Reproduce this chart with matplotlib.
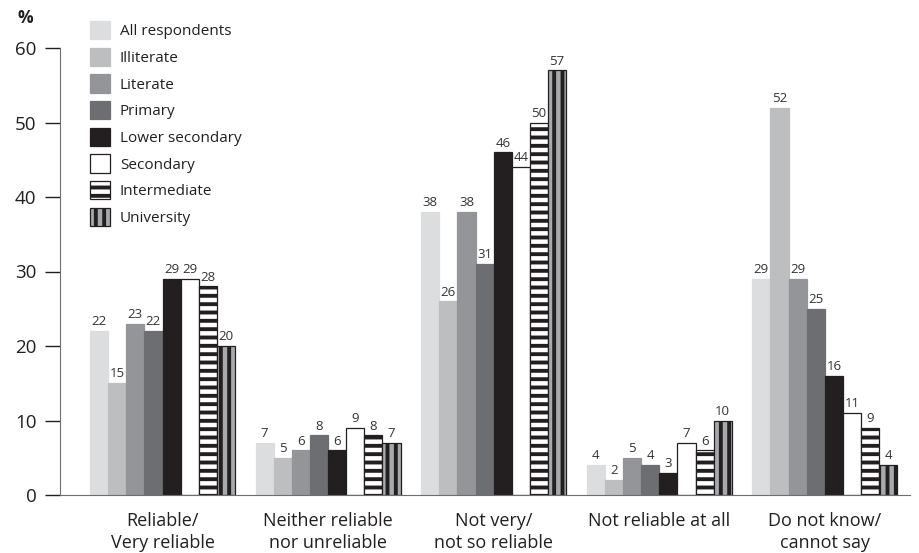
"""
Reliability of information by education level, grouped bar chart.
"""
import numpy as np
import matplotlib
matplotlib.use("Agg")
import matplotlib.pyplot as plt

plt.rcParams["font.family"] = ["Open Sans", "DejaVu Sans"]
plt.rcParams["hatch.linewidth"] = 2.8

categories = ["Reliable/\nVery reliable", "Neither reliable\nnor unreliable",
              "Not very/\nnot so reliable", "Not reliable at all",
              "Do not know/\ncannot say"]

series_names = ["All respondents", "Illiterate", "Literate", "Primary",
                "Lower secondary", "Secondary", "Intermediate", "University"]

all_resp = [22, 7, 38, 4, 29]
illiterate = [15, 5, 26, 2, 52]
literate = [23, 6, 38, 5, 29]
primary = [22, 8, 31, 4, 25]
lower_secondary = [29, 6, 46, 3, 16]
secondary = [29, 9, 44, 7, 11]
intermediate = [28, 8, 50, 6, 9]
university = [20, 7, 57, 10, 4]

yticks = [0, 10, 20, 30, 40, 50, 60]

values = [all_resp, illiterate, literate, primary,
          lower_secondary, secondary, intermediate, university]

# face, edge, hatch for each series
styles = [
    ("#dcdddf", "#dcdddf", None),
    ("#bcbec0", "#bcbec0", None),
    ("#939598", "#939598", None),
    ("#6d6e71", "#6d6e71", None),
    ("#231f20", "#231f20", None),
    ("#ffffff", "#231f20", None),
    ("#ffffff", "#231f20", "--"),
    ("#a7a9ac", "#231f20", "||"),
]

fig = plt.figure(figsize=(9.19, 5.53), dpi=100)
ax = fig.add_axes([60 / 919, 58 / 553, 850 / 919, 447 / 553])

x = np.arange(len(categories))
width = 0.1095
n = len(values)

for i, (vals, (face, edge, hatch)) in enumerate(zip(values, styles)):
    pos = x + (i - (n - 1) / 2) * width
    bars = ax.bar(pos, vals, width, color=face, edgecolor=edge,
                  hatch=hatch, linewidth=0.9, label=series_names[i])
    ax.bar_label(bars, labels=[str(v) for v in vals], padding=2,
                 fontsize=9.5, color="#333333")

ax.set_xlim(-0.619, 4.514)
ax.set_ylim(0, 60)
ax.set_yticks(yticks)
ax.set_xticks(x)
ax.set_xticklabels(categories, fontsize=13, color="#231f20",
                   linespacing=1.3)
ax.tick_params(axis="x", length=0, pad=12)
ax.tick_params(axis="y", length=11, width=1, color="#231f20",
               labelsize=13.5, labelcolor="#231f20", pad=6)

for side in ["top", "right"]:
    ax.spines[side].set_visible(False)
ax.spines["left"].set_color("#6d6e71")
ax.spines["bottom"].set_color("#6d6e71")

fig.text(25 / 919, 1 - 18 / 553, "%", fontsize=12.5, fontweight="bold",
         ha="center", va="center", color="#231f20")

fig.legend(loc="upper left", bbox_to_anchor=(90 / 919, 1 - 21 / 553),
           frameon=False, fontsize=11, borderpad=0, borderaxespad=0,
           handlelength=1.3, handleheight=1.45, handletextpad=0.65,
           labelspacing=0.56, labelcolor="#231f20")

fig.savefig("out.png", dpi=100)
